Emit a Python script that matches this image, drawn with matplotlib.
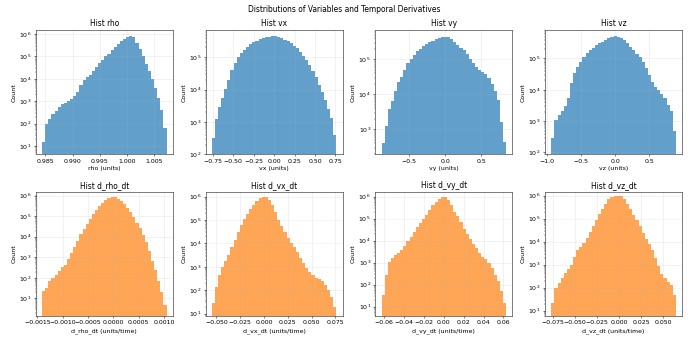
import matplotlib
matplotlib.use("Agg")
import matplotlib.pyplot as plt
import numpy as np

# variable names, x ranges of the histograms and bin heights (log10 of count, 40 bins each)
top_names = ["rho", "vx", "vy", "vz"]
bottom_names = ["d_rho_dt", "d_vx_dt", "d_vy_dt", "d_vz_dt"]

x_ranges = {
    "rho": (0.9844, 1.0073),
    "vx": (-0.762, 0.762),
    "vy": (-0.873, 0.841),
    "vz": (-0.941, 0.892),
    "d_rho_dt": (-0.00141, 0.00105),
    "d_vx_dt": (-0.0549, 0.0761),
    "d_vy_dt": (-0.0627, 0.0627),
    "d_vz_dt": (-0.0769, 0.0644),
}

log_counts = {
    "rho": [1.2, 2.0, 2.22, 2.43, 2.58, 2.76, 2.87, 2.94, 3.02, 3.12,
            3.22, 3.4, 3.72, 3.95, 4.08, 4.19, 4.37, 4.53, 4.70, 4.85,
            5.0, 5.13, 5.27, 5.40, 5.55, 5.68, 5.79, 5.88, 5.91, 5.87,
            5.62, 5.35, 5.0, 4.65, 4.35, 3.98, 3.6, 3.15, 2.6, 1.8],
    "vx": [2.5, 3.1, 3.45, 3.73, 4.02, 4.3, 4.59, 4.83, 5.0, 5.13,
           5.23, 5.33, 5.40, 5.46, 5.51, 5.55, 5.58, 5.61, 5.63, 5.65,
           5.64, 5.61, 5.58, 5.53, 5.49, 5.44, 5.36, 5.27, 5.15, 5.03,
           4.9, 4.75, 4.57, 4.38, 4.15, 3.92, 3.68, 3.4, 3.12, 2.6],
    "vy": [2.6, 3.1, 3.58, 3.82, 4.1, 4.36, 4.49, 4.71, 4.9, 5.02,
           5.13, 5.23, 5.31, 5.39, 5.45, 5.5, 5.54, 5.58, 5.62, 5.64,
           5.65, 5.65, 5.58, 5.5, 5.42, 5.34, 5.26, 5.15, 5.02, 4.9,
           4.79, 4.7, 4.64, 4.57, 4.48, 4.3, 4.1, 3.85, 3.2, 2.65],
    "vz": [2.45, 3.05, 3.21, 3.32, 3.47, 3.75, 4.22, 4.54, 4.72, 4.89,
           5.05, 5.16, 5.26, 5.35, 5.43, 5.49, 5.54, 5.59, 5.64, 5.68,
           5.71, 5.70, 5.66, 5.59, 5.48, 5.37, 5.26, 5.15, 5.04, 4.89,
           4.7, 4.46, 4.25, 4.08, 3.98, 3.88, 3.74, 3.53, 3.31, 2.7],
    "d_rho_dt": [1.35, 1.5, 1.83, 1.98, 2.13, 2.34, 2.54, 2.62, 2.9, 3.2,
                 3.5, 3.8, 4.11, 4.36, 4.64, 4.88, 5.12, 5.32, 5.5, 5.65,
                 5.79, 5.89, 5.94, 5.94, 5.84, 5.72, 5.57, 5.39, 5.2, 4.95,
                 4.68, 4.4, 4.06, 3.72, 3.3, 2.82, 2.38, 1.85, 1.3, 0.7],
    "d_vx_dt": [1.45, 2.15, 2.65, 2.98, 3.25, 3.52, 3.83, 4.16, 4.49, 4.77,
                5.03, 5.26, 5.46, 5.64, 5.79, 5.92, 5.99, 5.98, 5.85, 5.63,
                5.32, 4.99, 4.75, 4.49, 4.25, 4.03, 3.83, 3.63, 3.37, 3.15,
                2.96, 2.79, 2.65, 2.54, 2.46, 2.38, 2.23, 2.02, 1.72, 1.3],
    "d_vy_dt": [1.55, 2.45, 3.02, 3.22, 3.35, 3.45, 3.58, 3.75, 3.97, 4.17,
                4.39, 4.6, 4.82, 4.98, 5.17, 5.38, 5.6, 5.75, 5.89, 5.98,
                6.0, 5.86, 5.61, 5.32, 5.1, 4.83, 4.55, 4.3, 4.07, 3.83,
                3.65, 3.46, 3.28, 3.15, 3.0, 2.76, 2.46, 2.15, 1.7, 1.15],
    "d_vz_dt": [1.35, 2.0, 2.22, 2.41, 2.62, 2.8, 3.0, 3.34, 3.62, 3.76,
                3.92, 4.14, 4.41, 4.68, 4.95, 5.21, 5.42, 5.63, 5.84, 5.93,
                5.96, 5.99, 5.96, 5.83, 5.62, 5.4, 5.16, 4.95, 4.66, 4.36,
                4.11, 3.9, 3.62, 3.27, 2.93, 2.6, 2.4, 2.26, 2.13, 1.7],
}

# y limits (log10)
y_limits = {
    "rho": (0.63, 6.18), "vx": (2.0, 5.84), "vy": (2.29, 5.84), "vz": (1.94, 5.91),
    "d_rho_dt": (0.15, 6.19), "d_vx_dt": (0.9, 6.21), "d_vy_dt": (0.58, 6.23), "d_vz_dt": (0.77, 6.17),
}

W = 15.2
fig, axes = plt.subplots(2, 4, figsize=(W, W * 339 / 689))
fig.subplots_adjust(left=0.052, right=0.99, top=0.9115, bottom=0.068, wspace=0.239, hspace=0.3)
fig.suptitle("Distributions of Variables and Temporal Derivatives", fontsize=12, y=0.985)


def draw_hist(ax, name, color, unit):
    lo, hi = x_ranges[name]
    counts = 10 ** np.array(log_counts[name])
    edges = np.linspace(lo, hi, len(counts) + 1)
    centers = (edges[:-1] + edges[1:]) / 2
    ax.hist(centers, bins=edges, weights=counts, color=color, alpha=0.7, log=True)
    ax.set_ylim(10 ** y_limits[name][0], 10 ** y_limits[name][1])
    ax.set_title(f"Hist {name}")
    ax.set_xlabel(f"{name} ({unit})")
    ax.set_ylabel("Count")
    ax.grid(True, alpha=0.3)


for ax, name in zip(axes[0], top_names):
    draw_hist(ax, name, "#1f77b4", "units")
for ax, name in zip(axes[1], bottom_names):
    draw_hist(ax, name, "#ff7f0e", "units/time")

fig.savefig("out.png", dpi=689 / W)
